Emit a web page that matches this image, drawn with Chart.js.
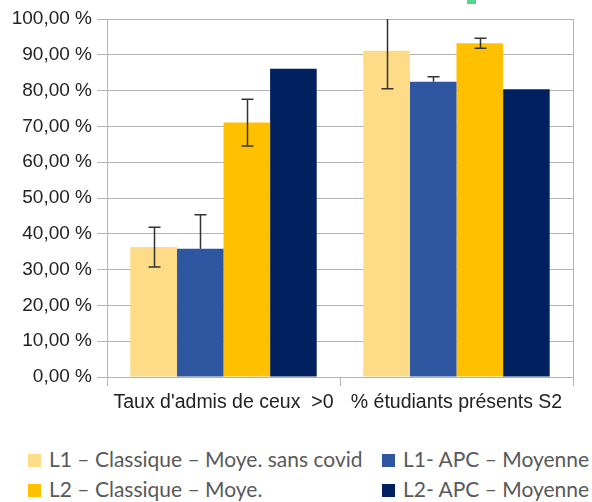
<!DOCTYPE html>
<html lang="fr">
<head>
<meta charset="utf-8">
<script src="https://cdn.jsdelivr.net/npm/chart.js@4/dist/chart.umd.min.js"></script>
<style>
  body { margin: 0; background: #fff; }
  #wrap { position: relative; width: 592px; height: 502px; }
  #chart { position: absolute; left: 0; top: 0; }
  #mark { position: absolute; left: 467px; top: 0; width: 9px; height: 4px; background: #52d78e; }
  #legend { position: absolute; left: 0; top: 0; width: 592px; font-family: Lato, sans-serif; font-size: 21px; color: #595959; }
  .item { position: absolute; white-space: nowrap; line-height: 24px; display: flex; align-items: center; }
  .box { display: inline-block; width: 13px; height: 13px; margin-right: 8px; position: relative; top: 1px; }
</style>
</head>
<body>
<div id="wrap">
  <canvas id="chart" width="592" height="425"></canvas>
  <div id="mark"></div>
  <div id="legend"></div>
</div>
<script>
const categories = ["Taux d'admis de ceux  >0", '% étudiants présents S2'];
const seriesNames = [
  'L1 – Classique – Moye. sans covid',
  'L1- APC – Moyenne',
  'L2 – Classique – Moye.',
  'L2- APC – Moyenne'
];
const seriesColors = ['#fddb87', '#2f56a0', '#ffc000', '#002060'];

// valeurs en %
const l1Classique = [36.3, 91.1];
const l1Apc = [35.8, 82.5];
const l2Classique = [71.1, 93.2];
const l2Apc = [86.1, 80.4];
const allValues = [l1Classique, l1Apc, l2Classique, l2Apc];

// barres d'erreur (+ / -), null = pas de barre
const errPlus = [[5.5, 10.6], [9.5, 1.4], [6.5, 1.4], [null, null]];
const errMinus = [[5.6, 10.6], [0, 0], [6.6, 1.4], [null, null]];

const yTicks = { min: 0, max: 100, step: 10 };

function formatPct(v) {
    return v.toFixed(2).replace('.', ',') + ' %';
}

// dessine les barres d'erreur au-dessus des barres
const errorBars = {
    id: 'errorBars',
    afterDatasetsDraw(chart) {
        const ctx = chart.ctx;
        const y = chart.scales.y;
        const area = chart.chartArea;
        ctx.save();
        ctx.beginPath();
        ctx.rect(area.left, area.top, area.right - area.left, area.bottom - area.top);
        ctx.clip();
        ctx.strokeStyle = '#333333';
        ctx.lineWidth = 1.5;
        chart.data.datasets.forEach((ds, i) => {
            const meta = chart.getDatasetMeta(i);
            meta.data.forEach((bar, j) => {
                const plus = errPlus[i][j];
                const minus = errMinus[i][j];
                if (plus === null) return;
                const v = ds.data[j];
                const top = y.getPixelForValue(v + plus);
                const bottom = y.getPixelForValue(v - minus);
                const x = Math.round(bar.x) + 0.5;
                ctx.beginPath();
                ctx.moveTo(x, top);
                ctx.lineTo(x, bottom);
                if (plus > 0) {
                    ctx.moveTo(x - 6, top);
                    ctx.lineTo(x + 6, top);
                }
                if (minus > 0) {
                    ctx.moveTo(x - 6, bottom);
                    ctx.lineTo(x + 6, bottom);
                }
                ctx.stroke();
            });
        });
        ctx.restore();
    }
};

new Chart(document.getElementById('chart').getContext('2d'), {
    type: 'bar',
    data: {
        labels: categories,
        datasets: seriesNames.map((name, i) => ({
            label: name,
            data: allValues[i],
            backgroundColor: seriesColors[i],
            borderWidth: 0,
            barPercentage: 1.0,
            categoryPercentage: 0.8
        }))
    },
    options: {
        responsive: false,
        animation: false,
        layout: {
            padding: { top: 19, right: 19, left: 0, bottom: 0 }
        },
        plugins: {
            legend: { display: false },
            tooltip: { enabled: false }
        },
        scales: {
            x: {
                grid: { offset: true, drawOnChartArea: false, color: '#b3b3b3', lineWidth: 1, tickLength: 9 },
                border: { color: '#b3b3b3', width: 1 },
                ticks: {
                    color: '#222',
                    padding: 5,
                    font: { family: 'Liberation Sans', size: 19.5 }
                },
                afterFit(scale) { scale.height = 48; }
            },
            y: {
                min: yTicks.min,
                max: yTicks.max,
                grid: { color: '#b3b3b3', lineWidth: 1, tickLength: 10 },
                border: { color: '#b3b3b3', width: 1 },
                ticks: {
                    stepSize: yTicks.step,
                    color: '#222',
                    padding: 5,
                    font: { family: 'Liberation Sans', size: 19 },
                    callback: v => formatPct(v)
                },
                afterFit(scale) { scale.width = 107; }
            },
            // axe vide à droite, juste pour le trait du cadre
            yRight: {
                position: 'right',
                min: yTicks.min,
                max: yTicks.max,
                grid: { drawOnChartArea: false, drawTicks: false },
                border: { color: '#b3b3b3', width: 1 },
                ticks: { display: false },
                afterFit(scale) { scale.width = 0; }
            }
        }
    },
    plugins: [errorBars]
});

// légende sur deux colonnes
const legendPos = [[28, 447], [382, 447], [28, 477], [382, 477]];
const legend = document.getElementById('legend');
seriesNames.forEach((name, i) => {
    const item = document.createElement('div');
    item.className = 'item';
    item.style.left = legendPos[i][0] + 'px';
    item.style.top = legendPos[i][1] + 'px';
    item.innerHTML = '<span class="box" style="background:' + seriesColors[i] + '"></span>';
    item.appendChild(document.createTextNode(name));
    legend.appendChild(item);
});
</script>
</body>
</html>
